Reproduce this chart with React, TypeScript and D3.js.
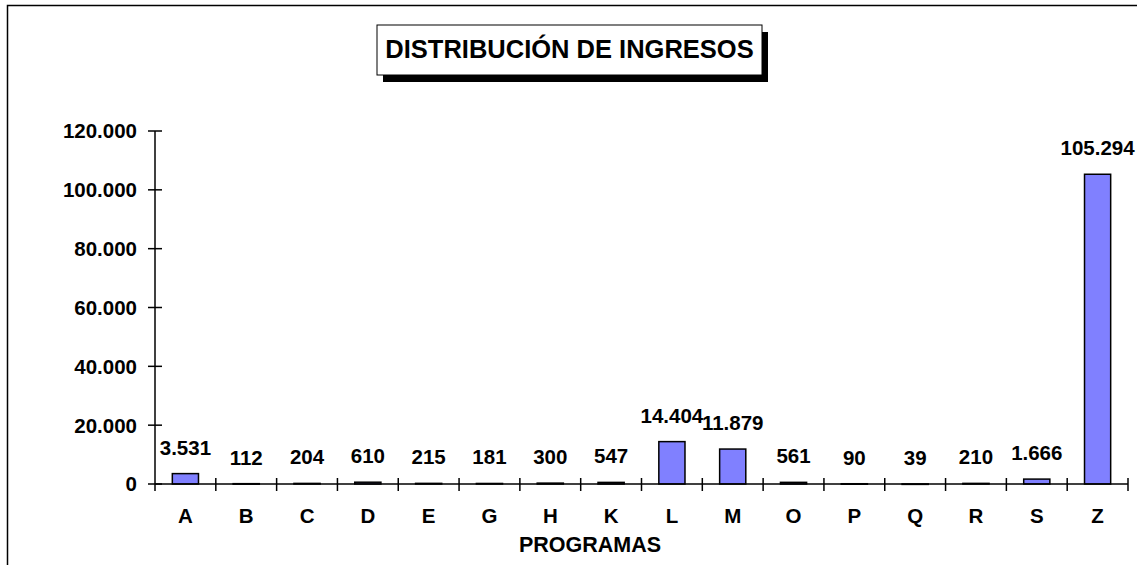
import * as d3 from 'd3';

const WIDTH = 1137;
const HEIGHT = 565;
const MARGINS = { top: 131, right: 10, bottom: 81, left: 155 };

const categories = ['A', 'B', 'C', 'D', 'E', 'G', 'H', 'K', 'L', 'M', 'O', 'P', 'Q', 'R', 'S', 'Z'];
const ingresos = [3531, 112, 204, 610, 215, 181, 300, 547, 14404, 11879, 561, 90, 39, 210, 1666, 105294];
const yTicks = [0, 20000, 40000, 60000, 80000, 100000, 120000];

const TITLE = 'DISTRIBUCIÓN DE INGRESOS';
const X_TITLE = 'PROGRAMAS';
const FONT = '"Liberation Sans", Arial, sans-serif';
const LABEL_SIZE = 20.5;

const locale = d3.formatLocale({ decimal: ',', thousands: '.', grouping: [3], currency: ['', '€'] });
const fmt = locale.format(',d');

export default function App() {
  const plotRight = 1128;
  const x = d3
    .scaleBand()
    .domain(categories)
    .range([MARGINS.left, plotRight])
    .paddingInner(0.57)
    .paddingOuter(0.285);
  const xEdges = d3
    .scaleBand()
    .domain(categories)
    .range([MARGINS.left, plotRight]);
  const y = d3
    .scaleLinear()
    .domain([0, 120000])
    .range([HEIGHT - MARGINS.bottom, MARGINS.top]);
  const y0 = y(0);

  const titleBox = { x: 377, y: 25, w: 385, h: 50 };

  return (
    <svg
      width={WIDTH}
      height={HEIGHT}
      style={{ position: 'absolute', left: 0, top: 0, background: '#fff' }}
      fontFamily={FONT}
      fontWeight="bold"
    >
      {/* outer chart frame, clipped on right and bottom */}
      <path d={`M7.5,${HEIGHT + 2}V5.5H${WIDTH + 2}`} fill="none" stroke="#000" strokeWidth={1.5} />

      {/* title box with shadow */}
      <rect x={titleBox.x + 6} y={titleBox.y + 7} width={titleBox.w} height={titleBox.h} fill="#000" />
      <rect x={titleBox.x} y={titleBox.y} width={titleBox.w} height={titleBox.h} fill="#fff" stroke="#000" strokeWidth={1} />
      <text x={titleBox.x + titleBox.w / 2} y={57.5} textAnchor="middle" fontSize={25.5}>
        {TITLE}
      </text>

      {/* bars */}
      {categories.map((c, i) => (
        <rect
          key={c}
          x={x(c)}
          y={y(ingresos[i])}
          width={x.bandwidth()}
          height={Math.max(y0 - y(ingresos[i]), 0.5)}
          fill="#8080FF"
          stroke="#000"
          strokeWidth={1.5}
        />
      ))}

      {/* value labels */}
      {categories.map((c, i) => (
        <text
          key={c}
          x={(xEdges(c) ?? 0) + xEdges.bandwidth() / 2}
          y={y(ingresos[i]) - 19}
          textAnchor="middle"
          fontSize={LABEL_SIZE}
        >
          {fmt(ingresos[i])}
        </text>
      ))}

      {/* y axis */}
      <line x1={MARGINS.left} x2={MARGINS.left} y1={y(120000)} y2={y0} stroke="#000" strokeWidth={1.5} />
      {yTicks.map((t) => (
        <g key={t}>
          <line x1={MARGINS.left - 7} x2={MARGINS.left + 7} y1={y(t)} y2={y(t)} stroke="#000" strokeWidth={1.5} />
          <text x={MARGINS.left - 18} y={y(t)} dy="0.36em" textAnchor="end" fontSize={LABEL_SIZE}>
            {fmt(t)}
          </text>
        </g>
      ))}

      {/* x axis */}
      <line x1={MARGINS.left} x2={plotRight} y1={y0} y2={y0} stroke="#000" strokeWidth={1.5} />
      {categories.map((c) => {
        const edge = (xEdges(c) ?? 0) + xEdges.bandwidth();
        return <line key={c} x1={edge} x2={edge} y1={y0 - 6} y2={y0 + 7} stroke="#000" strokeWidth={1.5} />;
      })}
      <line x1={MARGINS.left} x2={MARGINS.left} y1={y0} y2={y0 + 7} stroke="#000" strokeWidth={1.5} />
      {categories.map((c) => (
        <text key={c} x={(xEdges(c) ?? 0) + xEdges.bandwidth() / 2} y={523} textAnchor="middle" fontSize={LABEL_SIZE}>
          {c}
        </text>
      ))}
      <text x={590} y={552} textAnchor="middle" fontSize={21.5}>
        {X_TITLE}
      </text>
    </svg>
  );
}
